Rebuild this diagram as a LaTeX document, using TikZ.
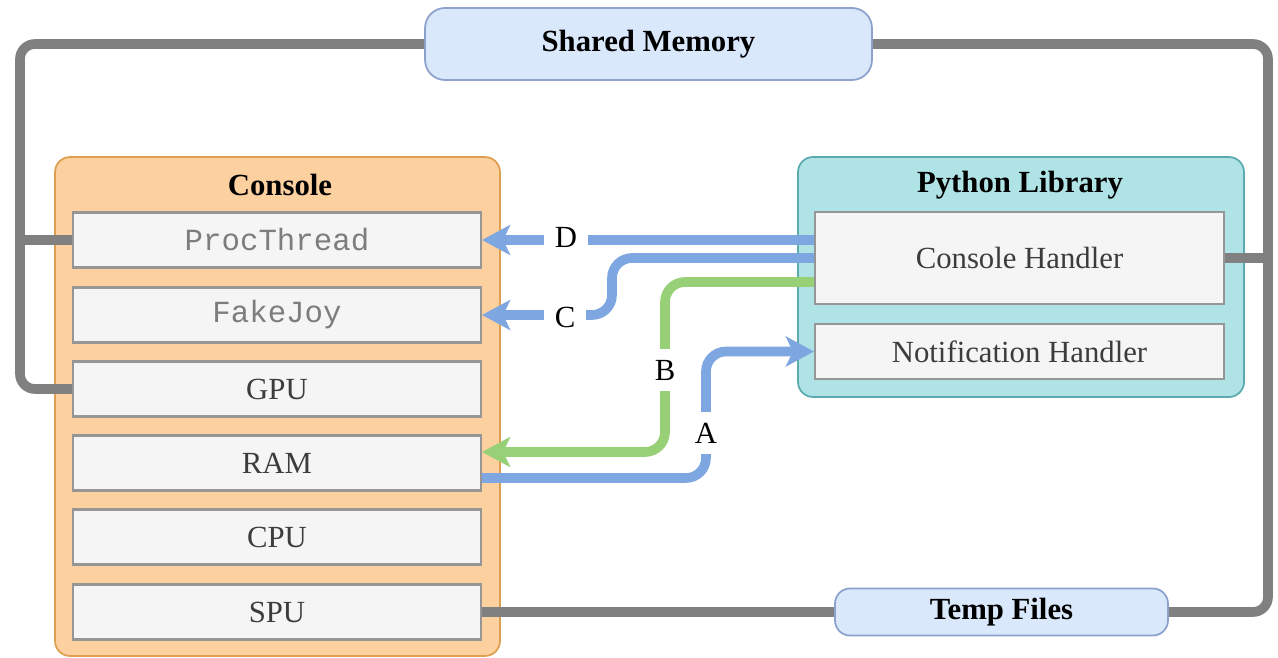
\documentclass[tikz,border=0pt]{standalone}
\usepackage{fontspec}
\setmainfont{Liberation Serif}
\setmonofont{Liberation Mono}
\usepackage{xcolor}
\definecolor{memfill}{RGB}{218,232,252}
\definecolor{memline}{RGB}{140,162,205}
\definecolor{consfill}{RGB}{253,208,160}
\definecolor{consline}{RGB}{222,160,80}
\definecolor{pyfill}{RGB}{176,227,230}
\definecolor{pyline}{RGB}{90,170,175}
\definecolor{cellfill}{RGB}{245,245,245}
\definecolor{cellline}{RGB}{150,150,150}
\definecolor{celltext}{RGB}{60,60,60}
\definecolor{monotext}{RGB}{125,125,125}
\definecolor{wiregray}{RGB}{128,128,128}
\definecolor{wireblue}{RGB}{126,166,224}
\definecolor{wiregreen}{RGB}{151,208,119}
\usetikzlibrary{arrows.meta, positioning}

\begin{document}
\begin{tikzpicture}[x=0.02cm, y=-0.02cm,
  txt/.style={font=\fontsize{17.5}{21}\selectfont},
  group/.style={draw=#1line, fill=#1fill, line width=1pt, rounded corners=0.3cm},
  cell/.style={txt, draw=cellline, fill=cellfill, line width=1.2pt, text=celltext,
    minimum width=8.16cm, minimum height=1.1cm},
  store/.style={txt, font=\fontsize{17.5}{21}\selectfont\bfseries, draw=memline, fill=memfill,
    line width=1pt, rounded corners=0.4cm},
  title/.style={txt, font=\fontsize{17.5}{21}\selectfont\bfseries},
  graywire/.style={draw=wiregray, line width=5.5pt, rounded corners=0.3cm},
  flow/.style={draw=#1, line width=5.5pt, rounded corners=0.4cm,
    -{Stealth[length=16pt, width=17pt, inset=4pt]}},
  lbl/.style={txt, fill=white, inner sep=6pt}]

  \useasboundingbox (0,0) rectangle (1278,658);

  % Shared stores
  \node[store, minimum width=8.94cm, minimum height=1.44cm] (shmem) at (648.5,44) {Shared Memory};
  \node[store, minimum width=6.66cm, minimum height=0.94cm, rounded corners=0.3cm] (temp) at (1001.5,612) {Temp Files};

  % Console
  \node[group=cons, minimum width=8.9cm, minimum height=9.98cm] (console) at (277.5,406.5) {};
  \node[title] (constitle) at (280,185) {Console};
  \node[cell, text=monotext, font=\fontsize{17.5}{21}\selectfont\ttfamily] (proc) at (277,240) {ProcThread};
  \node[cell, text=monotext, font=\fontsize{17.5}{21}\selectfont\ttfamily] (fake) at (277,315) {FakeJoy};
  \node[cell] (gpu) at (277,389) {GPU};
  \node[cell] (ram) at (277,463) {RAM};
  \node[cell] (cpu) at (277,537) {CPU};
  \node[cell] (spu) at (277,612) {SPU};

  % Python library
  \node[group=py, minimum width=8.92cm, minimum height=4.8cm] (pylib) at (1021,277) {};
  \node[title] (pytitle) at (1020,185) {Python Library};
  \node[cell, minimum width=8.18cm, minimum height=1.84cm] (ch) at (1019.5,258) {Console Handler};
  \node[cell, minimum width=8.18cm] (notif) at (1019.5,351.5) {Notification Handler};

  % Gray links
  \coordinate (lrail) at (20,240);
  \coordinate (rrail) at (1268,258);
  \draw[graywire] (shmem.west) -| (lrail) |- (gpu.west);
  \draw[graywire] (lrail) -- (proc.west);
  \draw[graywire] (shmem.east) -| (rrail) |- (temp.east);
  \draw[graywire] (ch.east) -- (rrail);
  \draw[graywire] (spu.east) -- (temp.west);

  % Flows A--D
  \coordinate (cbend) at (612,315);
  \coordinate (bbend) at (665,370);
  \coordinate (abend) at (706,430);
  \draw[flow=wireblue] (ch.west |- proc.east) -- (proc.east);
  \draw[flow=wireblue] (ch.west) -| (cbend) -- (fake.east);
  \draw[flow=wiregreen] ([yshift=-0.48cm]ch.west) -| (bbend) |- ([yshift=0.22cm]ram.east);
  \draw[flow=wireblue] ([yshift=-0.3cm]ram.east) -| (abend) |- (notif.west);

  \node[lbl] (lblD) at (566,237) {D};
  \node[lbl] (lblC) at (565,317) {C};
  \node[lbl] (lblB) at (665,370) {B};
  \node[lbl] (lblA) at (706,433) {A};
\end{tikzpicture}
\end{document}
